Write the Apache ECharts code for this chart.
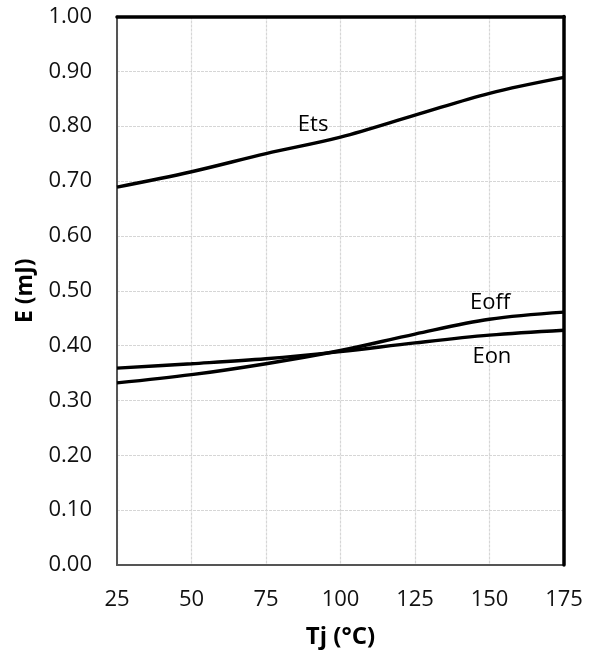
<!DOCTYPE html>
<html>
<head>
<meta charset="utf-8">
<script src="https://cdn.jsdelivr.net/npm/echarts@6/dist/echarts.min.js"></script>
<style>
  html, body { margin: 0; padding: 0; background: #fff; }
  #chart { width: 589px; height: 654px; }
</style>
</head>
<body>
<div id="chart"></div>
<script>
// Switching energy versus junction temperature
const temps = [25, 50, 75, 100, 125, 150, 175];
const ets  = [0.689, 0.717, 0.750, 0.780, 0.820, 0.860, 0.889];
const eoff = [0.332, 0.347, 0.367, 0.391, 0.421, 0.448, 0.461];
const eon  = [0.359, 0.367, 0.376, 0.389, 0.405, 0.419, 0.428];

const FONT = '"Open Sans", "Liberation Sans", sans-serif';
const pairs = arr => temps.map((t, i) => [t, arr[i]]);

const lineStyle = { color: '#000', width: 3.4 };
function curve(name, data, labelAt) {
  return {
    name, type: 'line', data: pairs(data), smooth: 0.35,
    showSymbol: false, symbol: 'none', lineStyle, z: 5,
    markPoint: {
      symbol: 'circle', symbolSize: 0,
      data: [{ coord: labelAt, value: name }],
      label: { show: true, formatter: name, color: '#000',
               fontFamily: FONT, fontSize: 22, position: 'inside' }
    }
  };
}

const gridLine = { show: true, lineStyle: { color: '#d6d6d6', width: 1.2, type: [3, 1] } };
const frame = { show: true, onZero: false, lineStyle: { color: '#000', width: 3.5 } };

const chart = echarts.init(document.getElementById('chart'), null, { renderer: 'canvas' });
chart.setOption({
  animation: false,
  backgroundColor: '#fff',
  grid: { left: 117, right: 25, top: 16.5, bottom: 89 },
  xAxis: [{
    type: 'value', min: 25, max: 175, interval: 25,
    name: 'Tj (°C)', nameLocation: 'middle', nameGap: 60,
    nameTextStyle: { fontFamily: FONT, fontSize: 24, fontWeight: 'bold', color: '#000' },
    axisLine: { show: true, onZero: false, lineStyle: { color: '#555', width: 2 } },
    axisTick: { show: false },
    axisLabel: { fontFamily: FONT, fontSize: 22, color: '#111', margin: 24 },
    splitLine: gridLine, z: 3
  }, {
    // top edge of the frame
    type: 'value', position: 'top', min: 25, max: 175, interval: 25,
    axisLine: frame, axisTick: { show: false }, axisLabel: { show: false },
    splitLine: { show: false }, z: 4
  }],
  yAxis: [{
    type: 'value', min: 0, max: 1, interval: 0.1,
    name: 'E (mJ)', nameLocation: 'middle', nameGap: 80, nameRotate: 90,
    nameTextStyle: { fontFamily: FONT, fontSize: 23, fontWeight: 'bold', color: '#000' },
    axisLine: { show: true, onZero: false, lineStyle: { color: '#555', width: 2 } },
    axisTick: { show: false },
    axisLabel: { fontFamily: FONT, fontSize: 22, color: '#111', margin: 25,
                 formatter: v => v.toFixed(2) },
    splitLine: gridLine, z: 3
  }, {
    // right edge of the frame
    type: 'value', position: 'right', min: 0, max: 1, interval: 0.1,
    axisLine: frame, axisTick: { show: false }, axisLabel: { show: false },
    splitLine: { show: false }, z: 4
  }],
  series: [
    curve('Ets', ets, [90.8, 0.802]),
    curve('Eoff', eoff, [150.2, 0.478]),
    curve('Eon', eon, [150.8, 0.379])
  ]
});
</script>
</body>
</html>
